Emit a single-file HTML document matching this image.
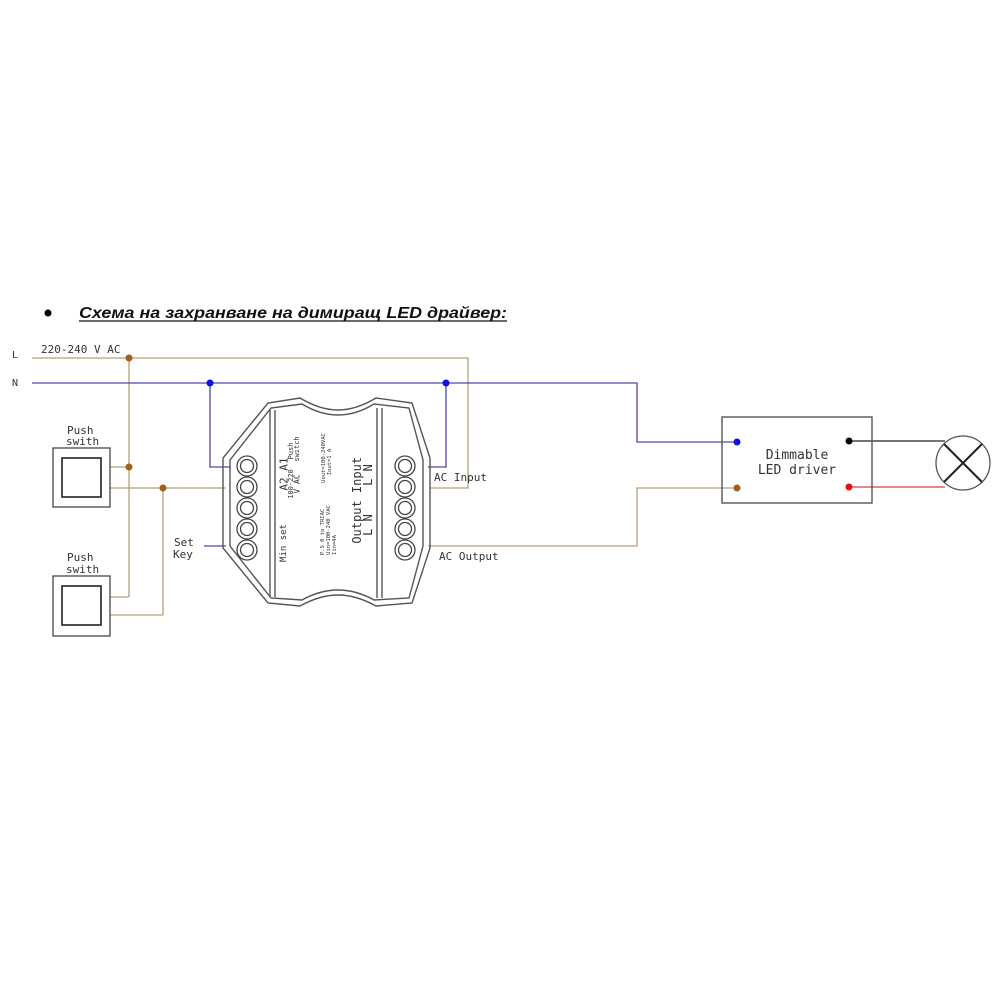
<!DOCTYPE html>
<html><head><meta charset="utf-8"><style>
html,body{margin:0;padding:0;background:#fff;width:1000px;height:1000px;overflow:hidden}
svg{display:block}
.t{font-family:"DejaVu Sans Mono","Liberation Mono",monospace;fill:#333}
</style></head><body>
<svg width="1000" height="1000" viewBox="0 0 1000 1000" xmlns="http://www.w3.org/2000/svg">
<!-- header -->
<circle cx="48" cy="313" r="3.5" fill="#000"/>
<text x="79" y="318" font-family="Liberation Sans, sans-serif" font-size="16" font-weight="bold" font-style="italic" textLength="428" lengthAdjust="spacingAndGlyphs" fill="#111">Схема на захранване на димиращ LED драйвер:</text>
<line x1="79" y1="321" x2="507" y2="321" stroke="#111" stroke-width="1.3"/>

<g fill="none" stroke-width="1.3">
<!-- L (tan) -->
<polyline points="32,358 468,358 468,488 430,488" stroke="#b3a07e"/>
<line x1="129" y1="358" x2="129" y2="597" stroke="#b3a07e"/>
<line x1="110" y1="467" x2="129" y2="467" stroke="#b3a07e"/>
<line x1="110" y1="488" x2="226" y2="488" stroke="#b3a07e"/>
<line x1="163" y1="488" x2="163" y2="615" stroke="#b3a07e"/>
<line x1="110" y1="597" x2="129" y2="597" stroke="#b3a07e"/>
<line x1="110" y1="615" x2="163" y2="615" stroke="#b3a07e"/>
<polyline points="428,546 637,546 637,488 737,488" stroke="#b3a07e"/>
<!-- N (blue) -->
<polyline points="32,383 637,383 637,442 737,442" stroke="#4a4aaa"/>
<polyline points="210,383 210,467 230,467" stroke="#4a4aaa"/>
<polyline points="446,383 446,467 428,467" stroke="#4a4aaa"/>
<line x1="204" y1="546" x2="226" y2="546" stroke="#4a4aaa"/>
<!-- driver out -->
<line x1="849" y1="441" x2="945" y2="441" stroke="#222"/>
<line x1="849" y1="487" x2="945" y2="487" stroke="#d04050"/>
</g>
<!-- dots -->
<circle cx="129" cy="358" r="3.5" fill="#a0601c"/>
<circle cx="129" cy="467" r="3.5" fill="#a0601c"/>
<circle cx="163" cy="488" r="3.5" fill="#a0601c"/>
<circle cx="210" cy="383" r="3.5" fill="#1010e0"/>
<circle cx="446" cy="383" r="3.5" fill="#1010e0"/>
<circle cx="737" cy="442" r="3.5" fill="#1010e0"/>
<circle cx="737" cy="488" r="3.5" fill="#a0601c"/>
<circle cx="849" cy="441" r="3.5" fill="#000"/>
<circle cx="849" cy="487" r="3.5" fill="#e01010"/>

<!-- labels -->
<text class="t" x="12" y="358" font-size="10">L</text>
<text class="t" x="12" y="386" font-size="10">N</text>
<text class="t" x="41" y="353" font-size="11">220-240 V AC</text>
<text class="t" x="67" y="434" font-size="11">Push</text>
<text class="t" x="66" y="445" font-size="11">swith</text>
<text class="t" x="67" y="561" font-size="11">Push</text>
<text class="t" x="66" y="573" font-size="11">swith</text>
<text class="t" x="174" y="546" font-size="11">Set</text>
<text class="t" x="173" y="558" font-size="11">Key</text>
<text class="t" x="434" y="481" font-size="11">AC Input</text>
<text class="t" x="439" y="560" font-size="11">AC Output</text>

<!-- switches -->
<g fill="none" stroke="#444" stroke-width="1.3">
<rect x="53" y="448" width="57" height="59"/>
<rect x="62" y="458" width="39" height="39" stroke="#222" stroke-width="1.6"/>
<rect x="53" y="576" width="57" height="60"/>
<rect x="62" y="586" width="39" height="39" stroke="#222" stroke-width="1.6"/>
</g>

<!-- module -->
<g fill="none" stroke="#555" stroke-width="1.4">
<path d="M223,458 L223,548 L268,603 L300,606 Q320,595 338,595 Q356,595 376,606 L412,603 L430,548 L430,458 L412,403 L376,398 Q356,410 338,410 Q320,410 300,398 L268,403 Z"/>
<path d="M230,460 L230,546 L271,598 L302,600 Q320,590 338,590 Q356,590 374,600 L409,598 L423,546 L423,460 L409,408 L374,404 Q356,415 338,415 Q320,415 302,404 L271,408 Z"/>
<line x1="270" y1="410" x2="270" y2="597"/>
<line x1="275" y1="410" x2="275" y2="597"/>
<line x1="377" y1="408" x2="377" y2="598"/>
<line x1="382" y1="408" x2="382" y2="598"/>
</g>
<g fill="none" stroke="#444" stroke-width="1.3">
<circle cx="247" cy="466" r="10"/><circle cx="247" cy="466" r="6.5"/>
<circle cx="247" cy="487" r="10"/><circle cx="247" cy="487" r="6.5"/>
<circle cx="247" cy="508" r="10"/><circle cx="247" cy="508" r="6.5"/>
<circle cx="247" cy="529" r="10"/><circle cx="247" cy="529" r="6.5"/>
<circle cx="247" cy="550" r="10"/><circle cx="247" cy="550" r="6.5"/>
<circle cx="405" cy="466" r="10"/><circle cx="405" cy="466" r="6.5"/>
<circle cx="405" cy="487" r="10"/><circle cx="405" cy="487" r="6.5"/>
<circle cx="405" cy="508" r="10"/><circle cx="405" cy="508" r="6.5"/>
<circle cx="405" cy="529" r="10"/><circle cx="405" cy="529" r="6.5"/>
<circle cx="405" cy="550" r="10"/><circle cx="405" cy="550" r="6.5"/>
</g>
<g class="t" text-anchor="middle" dominant-baseline="central">
<text transform="translate(284,474) rotate(-90)" font-size="11">A2 A1</text>
<text transform="translate(291,484) rotate(-90)" font-size="7">100-220</text>
<text transform="translate(297,484) rotate(-90)" font-size="8">V AC</text>
<text transform="translate(291,451) rotate(-90)" font-size="7">Push</text>
<text transform="translate(297,449) rotate(-90)" font-size="7">switch</text>
<text transform="translate(284,543) rotate(-90)" font-size="9">Min set</text>
<text transform="translate(324,458) rotate(-90)" font-size="5.5">Uout=100-240VAC</text>
<text transform="translate(330,462) rotate(-90)" font-size="5.5">Iout=1 A</text>
<text transform="translate(323,532) rotate(-90)" font-size="5.5">P.S 0 to TRIAC</text>
<text transform="translate(329,530) rotate(-90)" font-size="5.5">Uin=100-240 VAC</text>
<text transform="translate(335,545) rotate(-90)" font-size="5.5">Iin=4A</text>
<text transform="translate(357,475) rotate(-90)" font-size="12">Input</text>
<text transform="translate(368,475) rotate(-90)" font-size="12">L N</text>
<text transform="translate(357,522) rotate(-90)" font-size="12">Output</text>
<text transform="translate(368,525) rotate(-90)" font-size="12">L N</text>
</g>

<!-- driver -->
<rect x="722" y="417" width="150" height="86" fill="none" stroke="#555" stroke-width="1.4"/>
<text class="t" x="797" y="459" font-size="13" text-anchor="middle">Dimmable</text>
<text class="t" x="797" y="474" font-size="13" text-anchor="middle">LED driver</text>

<!-- lamp -->
<circle cx="963" cy="463" r="27" fill="none" stroke="#555" stroke-width="1.3"/>
<line x1="944" y1="444" x2="982" y2="482" stroke="#222" stroke-width="2"/>
<line x1="982" y1="444" x2="944" y2="482" stroke="#222" stroke-width="2"/>
</svg>
</body></html>
